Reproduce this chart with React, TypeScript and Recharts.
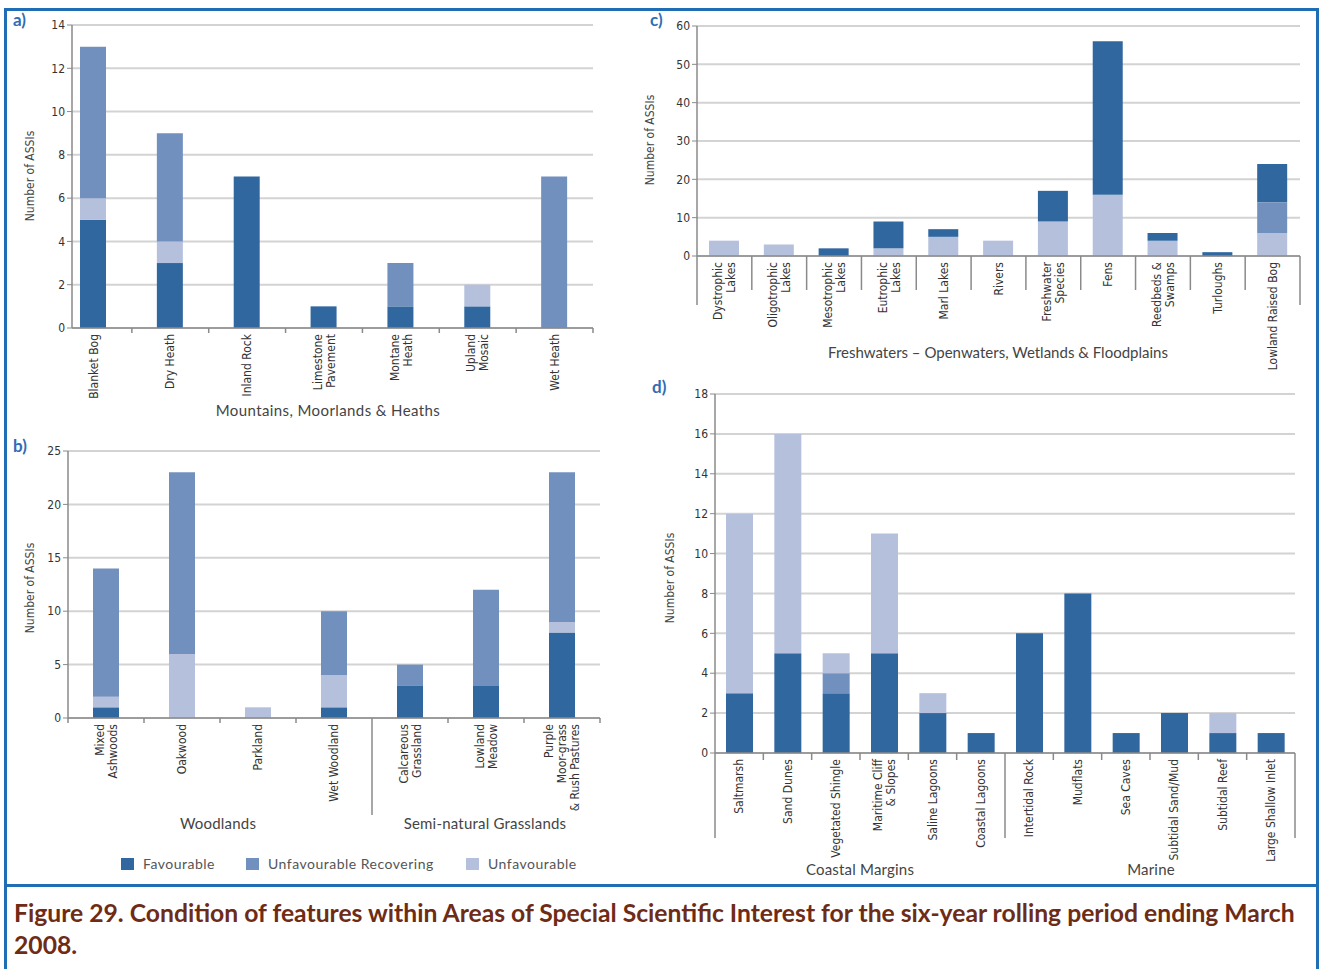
import React from "react"
import { Bar, BarChart, XAxis, YAxis, CartesianGrid } from "recharts"

// colours of the three condition classes
const FAV = "#30679f"
const REC = "#7290be"
const UNF = "#b5c0dc"

const legendItems = [
  { name: "Favourable", color: FAV, x: 121 },
  { name: "Unfavourable Recovering", color: REC, x: 246 },
  { name: "Unfavourable", color: UNF, x: 466 },
]

// a) Mountains, Moorlands & Heaths
const catsA = ["Blanket Bog", "Dry Heath", "Inland Rock", "Limestone\nPavement", "Montane\nHeath", "Upland\nMosaic", "Wet Heath"]
const favA = [5, 3, 7, 1, 1, 1, 0]
const unfA = [1, 1, 0, 0, 0, 1, 0]
const recA = [7, 5, 0, 0, 2, 0, 7]
const ticksA = [0, 2, 4, 6, 8, 10, 12, 14]

// b) Woodlands / Semi-natural Grasslands
const catsB = ["Mixed\nAshwoods", "Oakwood", "Parkland", "Wet Woodland", "Calcareous\nGrassland", "Lowland\nMeadow", "Purple\nMoor-grass\n& Rush Pastures"]
const favB = [1, 0, 0, 1, 3, 3, 8]
const unfB = [1, 6, 1, 3, 0, 0, 1]
const recB = [12, 17, 0, 6, 2, 9, 14]
const ticksB = [0, 5, 10, 15, 20, 25]

// c) Freshwaters
const catsC = ["Dystrophic\nLakes", "Oligotrophic\nLakes", "Mesotrophic\nLakes", "Eutrophic\nLakes", "Marl Lakes", "Rivers", "Freshwater\nSpecies", "Fens", "Reedbeds &\nSwamps", "Turloughs", "Lowland Raised Bog"]
const unfC = [4, 3, 0, 2, 5, 4, 9, 16, 4, 0, 6]
const recC = [0, 0, 0, 0, 0, 0, 0, 0, 0, 0, 8]
const favC = [0, 0, 2, 7, 2, 0, 8, 40, 2, 1, 10]
const ticksC = [0, 10, 20, 30, 40, 50, 60]

// d) Coastal Margins / Marine
const catsD = ["Saltmarsh", "Sand Dunes", "Vegetated Shingle", "Maritime Cliff\n& Slopes", "Saline Lagoons", "Coastal Lagoons", "Intertidal Rock", "Mudflats", "Sea Caves", "Subtidal Sand/Mud", "Subtidal Reef", "Large Shallow Inlet"]
const favD = [3, 5, 3, 5, 2, 1, 6, 8, 1, 2, 1, 1]
const recD = [0, 0, 1, 0, 0, 0, 0, 0, 0, 0, 0, 0]
const unfD = [9, 11, 1, 6, 1, 0, 0, 0, 0, 0, 1, 0]
const ticksD = [0, 2, 4, 6, 8, 10, 12, 14, 16, 18]

const build = (cats: string[], fav: number[], rec: number[], unf: number[]) =>
  cats.map((c, i) => ({ name: c, fav: fav[i], rec: rec[i], unf: unf[i] }))

const dataA = build(catsA, favA, recA, unfA)
const dataB = build(catsB, favB, recB, unfB)
const dataC = build(catsC, favC, recC, unfC)
const dataD = build(catsD, favD, recD, unfD)

const narrow = "'Liberation Sans Narrow', 'DejaVu Sans Condensed', 'Roboto Condensed', sans-serif"
const round = "Lato, 'Open Sans', sans-serif"
const axisGrey = "#8a8a8a"

// rotated category label plus separator lines between categories
function catTick(step: number, baseY: number, lineLen: (k: number) => number, fs = 12, lh = 13) {
  return (props: any) => {
    const { x, payload } = props
    const i = payload.index
    const lines = String(payload.value).split("\n")
    const right = lineLen(i + 1)
    const left = i === 0 ? lineLen(0) : 0
    return (
      <g>
        {right > 0 && (
          <line x1={x + step / 2} x2={x + step / 2} y1={baseY} y2={baseY + right} stroke={axisGrey} strokeWidth={1.5} />
        )}
        {left > 0 && (
          <line x1={x - step / 2} x2={x - step / 2} y1={baseY} y2={baseY + left} stroke={axisGrey} strokeWidth={1.5} />
        )}
        <text
          transform={`translate(${x},${baseY + 6}) rotate(-90)`}
          textAnchor="end"
          fontFamily={narrow}
          fontSize={fs}
          fill="#333"
        >
          {lines.map((l, k) => (
            <tspan key={k} x={0} y={(k - (lines.length - 1) / 2) * lh + fs * 0.35}>
              {l}
            </tspan>
          ))}
        </text>
      </g>
    )
  }
}

const yTick = { fontFamily: narrow, fontSize: 12, fill: "#333" }

function Text({ x, y, children, size = 15, rotate = false, font = round, color = "#444", spacing = 0.2 }: any) {
  return (
    <div
      style={{
        position: "absolute",
        left: x,
        top: y,
        transform: `translate(-50%, -50%)${rotate ? " rotate(-90deg)" : ""}`,
        whiteSpace: "nowrap",
        fontFamily: font,
        fontSize: size,
        letterSpacing: spacing,
        color,
      }}
    >
      {children}
    </div>
  )
}

function Letter({ x, y, children }: any) {
  return (
    <div style={{ position: "absolute", left: x, top: y, fontFamily: round, fontSize: 17, fontWeight: 700, color: "#2f6db4" }}>
      {children}
    </div>
  )
}

const colorOf: Record<string, string> = { fav: FAV, rec: REC, unf: UNF }
const nameOf: Record<string, string> = { fav: "Favourable", rec: "Unfavourable Recovering", unf: "Unfavourable" }

function renderBars(order: string[], size: number) {
  return order.map((k) => (
    <Bar key={k} dataKey={k} name={nameOf[k]} stackId="s" fill={colorOf[k]} barSize={size} isAnimationActive={false} />
  ))
}

const yAxisProps = {
  width: 30,
  interval: 0 as const,
  tick: yTick,
  tickSize: 5,
  tickLine: { stroke: axisGrey },
  axisLine: { stroke: axisGrey, strokeWidth: 1.5 },
}

export default function App() {
  const stepA = (593 - 55) / 7
  const stepB = (600 - 68) / 7
  const stepC = (1300 - 697) / 11
  const stepD = (1295 - 715) / 12

  return (
    <div style={{ position: "absolute", left: 0, top: 0, width: 1320, height: 969, background: "#fff", overflow: "hidden" }}>
      {/* frame */}
      <div style={{ position: "absolute", left: 4, top: 8, width: 1315, height: 879, border: "3px solid #1f6db4", boxSizing: "border-box" }} />
      <div style={{ position: "absolute", left: 4, top: 884, width: 1315, height: 120, borderLeft: "3px solid #1f6db4", borderRight: "3px solid #1f6db4", boxSizing: "border-box" }} />

      {/* a */}
      <div style={{ position: "absolute", left: 0, top: 0 }}>
        <BarChart width={640} height={430} data={dataA} margin={{ top: 25, right: 47, bottom: 12, left: 42 }}>
          <CartesianGrid vertical={false} stroke="#d3d3d3" strokeWidth={2} />
          <XAxis
            dataKey="name"
            interval={0}
            height={90}
            padding={{ left: -17, right: 0 }}
            tickLine={false}
            axisLine={{ stroke: axisGrey, strokeWidth: 1.5 }}
            tick={catTick(stepA, 328, (k) => (k === 0 ? 0 : 5))}
          />
          <YAxis {...yAxisProps} domain={[0, 14]} ticks={ticksA} />
          {renderBars(["fav", "unf", "rec"], 26)}
        </BarChart>
      </div>

      {/* b */}
      <div style={{ position: "absolute", left: 0, top: 430 }}>
        <BarChart width={640} height={450} data={dataB} margin={{ top: 21, right: 40, bottom: 32, left: 38 }}>
          <CartesianGrid vertical={false} stroke="#d3d3d3" strokeWidth={2} />
          <XAxis
            dataKey="name"
            interval={0}
            height={130}
            tickLine={false}
            axisLine={{ stroke: axisGrey, strokeWidth: 1.5 }}
            tick={catTick(stepB, 288, (k) => (k === 4 ? 97 : 5))}
          />
          <YAxis {...yAxisProps} domain={[0, 25]} ticks={ticksB} />
          {renderBars(["fav", "unf", "rec"], 26)}
        </BarChart>
      </div>

      {/* c */}
      <div style={{ position: "absolute", left: 640, top: 0 }}>
        <BarChart width={680} height={380} data={dataC} margin={{ top: 26, right: 20, bottom: 12, left: 27 }}>
          <CartesianGrid vertical={false} stroke="#d3d3d3" strokeWidth={2} />
          <XAxis
            dataKey="name"
            interval={0}
            height={112}
            tickLine={false}
            axisLine={{ stroke: axisGrey, strokeWidth: 1.5 }}
            tick={catTick(stepC, 256, (k) => (k === 0 || k === 11 ? 49 : 34))}
          />
          <YAxis {...yAxisProps} domain={[0, 60]} ticks={ticksC} />
          {renderBars(["unf", "rec", "fav"], 30)}
        </BarChart>
      </div>

      {/* d */}
      <div style={{ position: "absolute", left: 640, top: 370 }}>
        <BarChart width={680} height={510} data={dataD} margin={{ top: 24, right: 25, bottom: 12, left: 45 }}>
          <CartesianGrid vertical={false} stroke="#d3d3d3" strokeWidth={2} />
          <XAxis
            dataKey="name"
            interval={0}
            height={115}
            tickLine={false}
            axisLine={{ stroke: axisGrey, strokeWidth: 1.5 }}
            tick={catTick(stepD, 383, (k) => (k === 0 || k === 6 || k === 12 ? 85 : 7))}
          />
          <YAxis {...yAxisProps} domain={[0, 18]} ticks={ticksD} />
          {renderBars(["fav", "rec", "unf"], 27)}
        </BarChart>
      </div>

      {/* panel letters */}
      <Letter x={13} y={9}>a)</Letter>
      <Letter x={13} y={435}>b)</Letter>
      <Letter x={650} y={9}>c)</Letter>
      <Letter x={652} y={376}>d)</Letter>

      {/* axis titles */}
      <Text x={30} y={176} size={12} rotate font={narrow} spacing={0}>Number of ASSIs</Text>
      <Text x={30} y={588} size={12} rotate font={narrow} spacing={0}>Number of ASSIs</Text>
      <Text x={650} y={140} size={12} rotate font={narrow} spacing={0}>Number of ASSIs</Text>
      <Text x={670} y={578} size={12} rotate font={narrow} spacing={0}>Number of ASSIs</Text>

      <Text x={328} y={410} spacing={0.4}>Mountains, Moorlands &amp; Heaths</Text>
      <Text x={218} y={823}>Woodlands</Text>
      <Text x={485} y={823}>Semi-natural Grasslands</Text>
      <Text x={998} y={352} spacing={0}>Freshwaters – Openwaters, Wetlands &amp; Floodplains</Text>
      <Text x={860} y={869}>Coastal Margins</Text>
      <Text x={1151} y={869}>Marine</Text>

      {/* legend */}
      {legendItems.map((it) => (
        <div
          key={it.name}
          style={{ position: "absolute", left: it.x, top: 855, display: "flex", alignItems: "center", gap: 9, fontFamily: round, fontSize: 14, letterSpacing: 0.5, color: "#555", whiteSpace: "nowrap" }}
        >
          <span style={{ display: "inline-block", width: 13, height: 12, background: it.color }} />
          <span>{it.name}</span>
        </div>
      ))}

      {/* caption */}
      <div style={{ position: "absolute", left: 14, top: 897, fontFamily: round, fontWeight: 700, fontSize: 24.7, lineHeight: "32px", color: "#6e2c16", whiteSpace: "nowrap" }}>
        Figure 29. Condition of features within Areas of Special Scientific Interest for the six-year rolling period ending March
        <br />
        2008.
      </div>
    </div>
  )
}
